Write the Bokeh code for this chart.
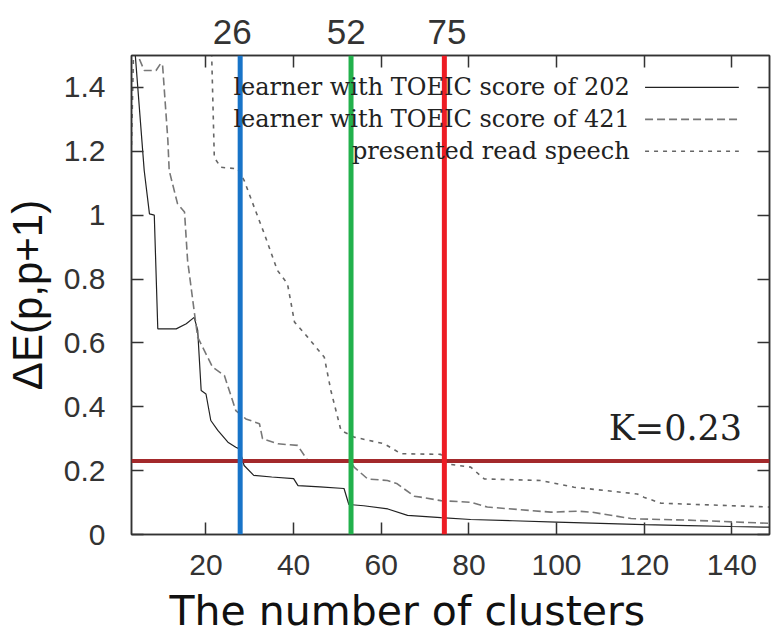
from bokeh.plotting import figure
from bokeh.models import (Range1d, LinearAxis, FixedTicker, Span, Label, Title,
                          CustomLabelingPolicy)
from bokeh.embed import file_html
from bokeh.resources import INLINE

# ---------------- data ----------------
clusters_202 = [3, 3.9, 5.9, 7.1, 8.2, 9.0, 13.2, 15.5, 17.3, 18.1, 18.9, 20.0,
                21.1, 22.7, 25.0, 26.8, 27.6, 28.7, 30.9, 35.0, 40.0, 41.0, 46.0,
                51.5, 52.6, 56.0, 61.5, 66.0, 73.6, 80.4, 90, 100, 110, 120, 130,
                140, 148.6]
delta_202 = [1.66, 1.495, 1.14, 1.004, 1.0, 0.644, 0.644, 0.66, 0.68, 0.64, 0.451,
             0.44, 0.357, 0.326, 0.289, 0.273, 0.268, 0.216, 0.185, 0.18, 0.175,
             0.153, 0.149, 0.144, 0.094, 0.09, 0.08, 0.06, 0.053, 0.047, 0.043,
             0.039, 0.035, 0.031, 0.028, 0.025, 0.023]

clusters_421 = [3, 4.8, 5.9, 8.6, 9.7, 10.1, 10.5, 11.3, 11.6, 13.5, 15.1, 15.8,
                17.3, 18.1, 21.5, 24.2, 26.8, 29.1, 32.2, 32.9, 36.4, 40.9, 43.2,
                53.1, 53.8, 56.9, 61.4, 63.5, 67.5, 69.0, 73.6, 80.4, 84.2, 98.7,
                104.8, 108.0, 117.0, 118.4, 130, 148.6]
delta_421 = [1.56, 1.489, 1.453, 1.453, 1.476, 1.469, 1.39, 1.234, 1.14, 1.036,
             1.01, 0.858, 0.70, 0.618, 0.524, 0.498, 0.388, 0.362, 0.347, 0.30,
             0.284, 0.279, 0.232, 0.226, 0.211, 0.174, 0.169, 0.16, 0.12, 0.117,
             0.106, 0.101, 0.086, 0.07, 0.073, 0.07, 0.05, 0.049, 0.045, 0.035]

clusters_read = [3, 3.6, 20.9, 21.3, 21.9, 23.4, 27.2, 28.7, 31.0, 33.3, 36.3,
                 38.6, 40.2, 43.2, 47.0, 48.5, 50.8, 53.8, 60.7, 64.5, 73.6, 75.1,
                 80.4, 83.5, 96.4, 104.0, 118.4, 119.9, 123.8, 148.6]
delta_read = [1.22, 1.6, 1.75, 1.5, 1.18, 1.15, 1.145, 1.109, 1.025, 0.942, 0.827,
              0.785, 0.665, 0.618, 0.555, 0.451, 0.326, 0.305, 0.284, 0.253, 0.251,
              0.221, 0.211, 0.174, 0.169, 0.148, 0.127, 0.117, 0.098, 0.086]

series_names = ["learner with TOEIC score of 202",
                "learner with TOEIC score of 421",
                "presented read speech"]

k_value = 0.23
cut_clusters = [27.8, 53.1, 74.4]
cut_labels = ["26", "52", "75"]
cut_colors = ["#1874c8", "#22b14c", "#ed1c24"]

x_ticks = [20, 40, 60, 80, 100, 120, 140]
y_ticks = [0, 0.2, 0.4, 0.6, 0.8, 1, 1.2, 1.4]

x_title = "The number of clusters"
y_title = "\u0394E(p,p+1)"

# ---------------- figure ----------------
AX = "#333333"
p = figure(frame_width=638, frame_height=479,
           x_range=Range1d(3, 148.6), y_range=Range1d(0, 1.5),
           output_backend="svg", toolbar_location=None,
           min_border_left=130, min_border_top=55,
           min_border_right=0, min_border_bottom=0)
p.xgrid.visible = False
p.ygrid.visible = False
p.outline_line_color = AX
p.outline_line_width = 1.5
p.background_fill_color = "white"
p.border_fill_color = "white"


def style_axis(ax, size="30px"):
    ax.axis_line_color = AX
    ax.axis_line_width = 1.5
    ax.major_tick_line_color = AX
    ax.major_tick_line_width = 1.5
    ax.major_tick_in = 12
    ax.major_tick_out = 0
    ax.minor_tick_line_color = None
    ax.major_label_text_font = "Liberation Sans"
    ax.major_label_text_font_size = size
    ax.major_label_text_color = AX


xa = p.xaxis[0]
style_axis(xa)
xa.ticker = FixedTicker(ticks=x_ticks)
xa.major_label_standoff = 20

ya = p.yaxis[0]
style_axis(ya)
ya.ticker = FixedTicker(ticks=y_ticks)
ya.major_label_overrides = {0: "0", 1: "1"}
ya.major_label_standoff = 26
ya.axis_label = y_title
ya.axis_label_text_font = "Liberation Sans"
ya.axis_label_text_font_style = "normal"
ya.axis_label_text_font_size = "42px"
ya.axis_label_text_color = "#111111"
ya.axis_label_standoff = 10

top = LinearAxis(ticker=FixedTicker(ticks=[int(s) for s in cut_labels],
                                    minor_ticks=x_ticks))
style_axis(top, "35px")
top.major_tick_line_color = None
top.minor_tick_line_color = AX
top.minor_tick_line_width = 1.5
top.minor_tick_in = 12
top.minor_tick_out = 0
top.major_label_standoff = 12
p.add_layout(top, "above")

right = LinearAxis(ticker=FixedTicker(ticks=y_ticks))
style_axis(right, "1px")
right.major_label_standoff = 0
right.major_label_policy = CustomLabelingPolicy(code="return new Set()")
p.add_layout(right, "right")

p.add_layout(Title(text=x_title, align="left", offset=38,
                   text_font="DejaVu Sans", text_font_size="41px",
                   text_font_style="normal", text_color="#111111",
                   vertical_align="bottom", standoff=14), "below")

# ---------------- curves ----------------
styles = [dict(line_color="#222222", line_width=1.2),
          dict(line_color="#777777", line_width=1.6, line_dash="8 4"),
          dict(line_color="#666666", line_width=1.6, line_dash="4 5")]
for xs, ys, st in zip([clusters_202, clusters_421, clusters_read],
                      [delta_202, delta_421, delta_read], styles):
    p.line(xs, ys, **st)

# threshold and cut lines
p.add_layout(Span(location=k_value, dimension="width",
                  line_color="#a3292b", line_width=4))
for cx, col in zip(cut_clusters, cut_colors):
    p.add_layout(Span(location=cx, dimension="height",
                      line_color=col, line_width=5))

p.add_layout(Label(x=111.9, y=0.332, text=f"K={k_value}",
                   text_font="DejaVu Serif", text_font_size="35px",
                   text_baseline="middle", text_color="#222222"))

# legend (gnuplot style: text on the left, sample line on the right)
legend_rows = [1.40, 1.30, 1.20]
legend_text_right = 116.7
legend_sample = (120.2, 141.6)
for name, ly, st in zip(series_names, legend_rows, styles):
    p.add_layout(Label(x=legend_text_right, y=ly, text=name, text_align="right",
                       text_baseline="middle", text_font="DejaVu Serif",
                       text_font_size="24px", text_color="#222222"))
    p.segment(x0=[legend_sample[0]], y0=[ly], x1=[legend_sample[1]], y1=[ly],
              **st)

open("out.html", "w").write(file_html(p, INLINE))
